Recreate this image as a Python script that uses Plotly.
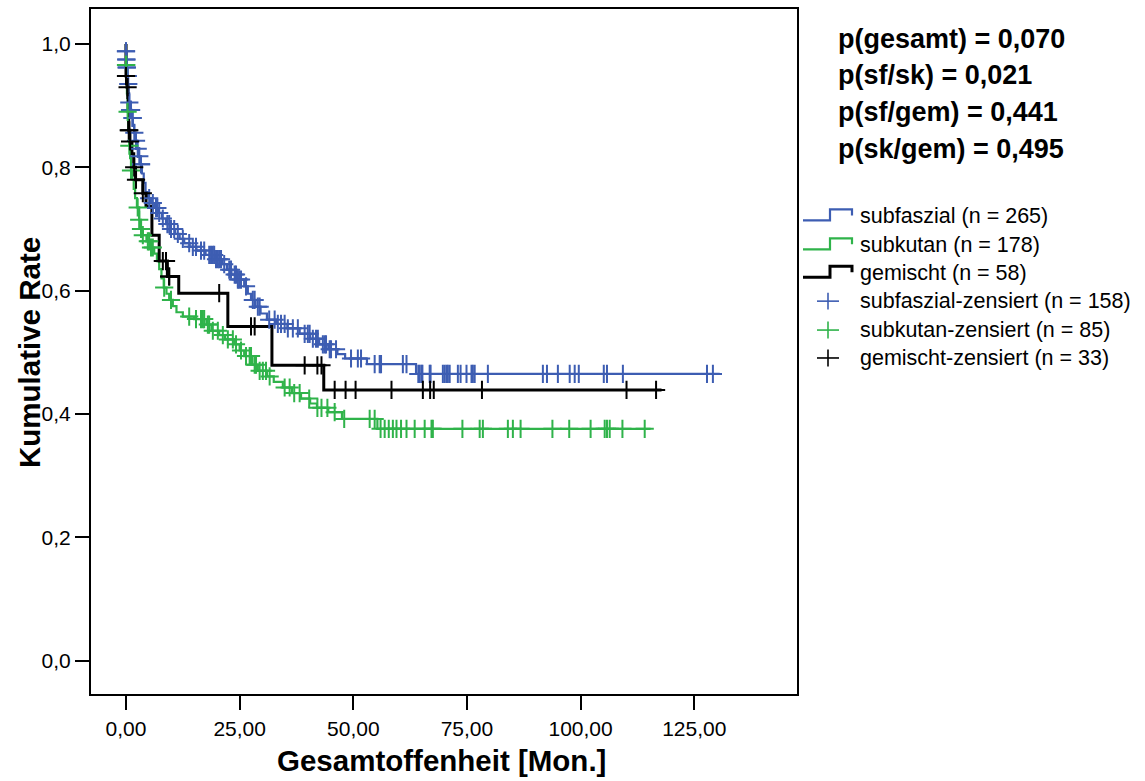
import plotly.graph_objects as go

# ---------------- data ----------------
# Kaplan-Meier step points: event times (months) and cumulative rate after each step
blue_event_t = [0.0, 0.05, 0.12, 0.25, 0.4, 0.55, 0.7, 0.9, 1.2, 1.5, 1.8, 2.1, 2.4, 2.7, 3.1, 3.5, 3.9,
                4.3, 4.8, 5.5, 6.3, 7.1, 7.9, 8.8, 9.8, 10.8, 11.8, 12.8, 14.0, 15.5, 17.5, 19.5, 21.2,
                22.2, 23.2, 24.5, 26.0, 26.8, 27.5, 28.5, 29.6, 31.0, 33.0, 35.5, 38.2, 40.5, 42.5,
                44.5, 46.5, 48.2, 53.0, 63.8]
blue_event_s = [0.988, 0.975, 0.962, 0.948, 0.935, 0.92, 0.905, 0.893, 0.88, 0.868, 0.856, 0.843, 0.83,
                0.818, 0.805, 0.79, 0.775, 0.76, 0.75, 0.742, 0.734, 0.726, 0.717, 0.708, 0.70, 0.692,
                0.684, 0.677, 0.671, 0.665, 0.658, 0.651, 0.643, 0.634, 0.626, 0.618, 0.607, 0.595,
                0.585, 0.574, 0.563, 0.553, 0.546, 0.539, 0.53, 0.522, 0.513, 0.505, 0.497, 0.49,
                0.481, 0.465]
blue_end = 130.6
blue_cens_t = [0.0, 0.0, 0.05, 0.1, 0.13, 0.2, 0.35, 0.35, 0.5, 0.73, 0.9, 1.1, 1.1, 1.45, 1.45, 1.83,
               2.2, 2.57, 2.93, 3.3, 3.3, 5.1, 5.9, 6.6, 6.9, 7.3, 8.1, 9.1, 9.5, 9.9, 10.6, 11.4, 12.5,
               13.9, 14.7, 15.4, 16.5, 17.2, 18.3, 18.7, 19.1, 19.4, 19.8, 20.2, 20.5, 20.9, 21.6,
               22.7, 23.1, 23.9, 24.2, 24.6, 24.9, 25.3, 26.4, 27.9, 28.3, 29.0, 29.4, 31.5, 32.7,
               33.4, 34.1, 34.9, 35.6, 36.7, 37.8, 39.3, 40.0, 40.4, 41.1, 41.8, 42.2, 43.3, 43.7,
               44.0, 44.8, 45.1, 46.2, 49.5, 51.0, 51.7, 54.7, 55.8, 56.1, 60.9, 61.7, 64.3, 64.6,
               65.0, 65.2, 66.8, 67.0, 69.7, 70.1, 70.5, 70.8, 71.2, 73.0, 73.6, 74.9, 76.0, 76.3,
               76.7, 79.6, 91.7, 92.6, 95.0, 97.6, 98.7, 99.6, 105.1, 105.8, 109.3, 127.8, 129.1]

green_event_t = [0.0, 0.1, 0.2, 0.35, 0.5, 0.7, 0.9, 1.1, 1.4, 1.7, 2.0, 2.4, 2.9, 3.3, 3.7, 4.5, 5.5,
                 6.2, 6.8, 7.3, 7.8, 8.3, 8.9, 9.5, 10.3, 11.1, 12.5, 15.0, 17.7, 18.8, 20.5, 21.8,
                 23.8, 25.0, 26.0, 27.8, 29.0, 31.0, 32.5, 34.5, 36.5, 38.5, 40.5, 42.0, 44.5, 47.5,
                 55.3]
green_event_s = [0.966, 0.95, 0.92, 0.89, 0.86, 0.835, 0.815, 0.795, 0.78, 0.765, 0.75, 0.735, 0.715,
                 0.70, 0.69, 0.68, 0.67, 0.66, 0.648, 0.635, 0.62, 0.605, 0.595, 0.585, 0.575, 0.565,
                 0.558, 0.554, 0.545, 0.535, 0.528, 0.521, 0.513, 0.503, 0.494, 0.48, 0.47, 0.461,
                 0.452, 0.443, 0.434, 0.425, 0.417, 0.41, 0.403, 0.392, 0.376]
green_end = 115.4
green_cens_t = [0.0, 0.05, 0.35, 0.73, 1.1, 2.57, 2.9, 3.3, 3.7, 4.8, 5.1, 5.5, 5.9, 8.4, 9.9, 13.9,
                15.4, 16.5, 16.9, 17.2, 18.0, 18.3, 19.1, 20.2, 21.3, 22.4, 23.5, 24.2, 25.3, 26.4,
                27.2, 27.5, 28.3, 28.6, 29.4, 30.1, 30.8, 31.6, 34.9, 36.0, 37.0, 38.2, 40.3, 42.1,
                43.0, 44.3, 45.9, 48.0, 53.6, 54.7, 56.0, 56.9, 57.8, 58.7, 59.5, 60.5, 61.7, 63.5,
                65.7, 67.2, 67.5, 74.0, 77.8, 78.5, 84.0, 85.1, 86.8, 93.8, 97.5, 102.2, 105.3,
                105.8, 106.4, 109.2, 114.1]

black_event_t = [0.0, 0.25, 0.4, 0.5, 0.55, 0.6, 0.85, 1.3, 1.7, 2.1, 3.7, 4.4, 5.7, 7.3, 9.1, 11.6,
                 22.4, 32.1, 43.5]
black_event_s = [0.948, 0.93, 0.913, 0.895, 0.877, 0.86, 0.842, 0.822, 0.80, 0.78, 0.758, 0.737,
                 0.69, 0.648, 0.623, 0.596, 0.542, 0.479, 0.439]
black_end = 117.8
black_cens_t = [0.0, 0.35, 0.6, 0.73, 0.9, 1.8, 2.2, 3.7, 8.1, 8.8, 9.5, 9.5, 20.5, 27.5, 28.3, 39.3,
                42.1, 43.0, 45.9, 48.3, 50.5, 58.4, 65.3, 66.9, 67.7, 78.3, 110.1, 116.6]

group_names = ["subfaszial (n = 265)", "subkutan (n = 178)", "gemischt (n = 58)"]
cens_names = ["subfaszial-zensiert (n = 158)", "subkutan-zensiert (n = 85)",
              "gemischt-zensiert (n = 33)"]
p_texts = ["p(gesamt) = 0,070", "p(sf/sk) = 0,021", "p(sf/gem) = 0,441", "p(sk/gem) = 0,495"]

x_tickvals = [0, 25, 50, 75, 100, 125]
x_ticktext = ["0,00", "25,00", "50,00", "75,00", "100,00", "125,00"]
y_tickvals = [0.0, 0.2, 0.4, 0.6, 0.8, 1.0]
y_ticktext = ["0,0", "0,2", "0,4", "0,6", "0,8", "1,0"]

# ---------------- styling ----------------
BLUE = "#3D5DB2"
GREEN = "#2FB34A"
BLACK = "#000000"
colors = [BLUE, GREEN, BLACK]
line_w = [2.2, 2.2, 3]

W, H = 1145, 781
L, R, T, B = 91, 797, 7, 694  # plot area in pixels


def px_x(px):
    return (px - L) / (R - L)


def px_y(py):
    return (B - py) / (B - T)


def step_curve(ev_t, ev_s, end):
    xs = [0.0] + list(ev_t) + [end]
    ys = [1.0] + list(ev_s) + [ev_s[-1]]
    return xs, ys


def surv_at(t, ev_t, ev_s):
    s = 1.0
    for et, es in zip(ev_t, ev_s):
        if et <= t:
            s = es
    return s


fig = go.Figure()
groups = [
    (blue_event_t, blue_event_s, blue_end, blue_cens_t),
    (green_event_t, green_event_s, green_end, green_cens_t),
    (black_event_t, black_event_s, black_end, black_cens_t),
]
for i, (et, es, end, ct) in enumerate(groups):
    xs, ys = step_curve(et, es, end)
    fig.add_trace(go.Scatter(x=xs, y=ys, mode="lines", line=dict(color=colors[i], width=line_w[i],
                             shape="hv"), showlegend=False, hoverinfo="skip"))
for i, (et, es, end, ct) in enumerate(groups):
    cy = [surv_at(t, et, es) for t in ct]
    fig.add_trace(go.Scatter(x=ct, y=cy, mode="markers",
                             marker=dict(symbol="cross-thin", size=13,
                                         line=dict(color=colors[i], width=2)),
                             showlegend=False, hoverinfo="skip"))

AX_FONT = dict(family="Liberation Sans, Arial", size=21, color="black")
fig.update_xaxes(range=[-7.7, 147.6], tickvals=x_tickvals, ticktext=x_ticktext, showgrid=False,
                 zeroline=False, showline=True, mirror=True, linecolor="black", linewidth=2,
                 ticks="outside", ticklen=14, tickwidth=2, tickcolor="black", tickfont=AX_FONT,
                 ticklabelstandoff=1)
fig.update_yaxes(range=[-0.054, 1.0567], tickvals=y_tickvals, ticktext=y_ticktext, showgrid=False,
                 zeroline=False, showline=True, mirror=True, linecolor="black", linewidth=2,
                 ticks="outside", ticklen=14, tickwidth=2, tickcolor="black", tickfont=AX_FONT)

annotations = []
shapes = []
TITLE_FONT = dict(family="Liberation Sans, Arial", size=29.5, color="black", weight="bold")
annotations.append(dict(text="Gesamtoffenheit [Mon.]", x=px_x(441), y=px_y(761), xref="paper",
                        yref="paper", showarrow=False, xanchor="center", yanchor="middle",
                        font=TITLE_FONT))
annotations.append(dict(text="Kumulative Rate", x=px_x(30), y=px_y(352), xref="paper",
                        yref="paper", showarrow=False, xanchor="center", yanchor="middle",
                        textangle=-90, font=TITLE_FONT))

# p-values
p_ys = [37, 73.5, 110, 147]
for txt, py in zip(p_texts, p_ys):
    annotations.append(dict(text=txt, x=px_x(836), y=px_y(py), xref="paper", yref="paper",
                            showarrow=False, xanchor="left", yanchor="middle",
                            font=dict(family="Liberation Sans, Arial", size=27, color="black",
                                      weight="bold")))

# custom legend
LEG_FONT = dict(family="Liberation Sans, Arial", size=21.5, color="black")
row_y = [215, 244, 272, 300, 329, 357]
for i in range(3):
    yc = row_y[i]
    pts = [(803, yc + 4), (830, yc + 4), (830, yc - 7), (852, yc - 7), (852, yc - 1)]
    path = "M " + " L ".join(f"{px_x(a):.5f},{px_y(b):.5f}" for a, b in pts)
    shapes.append(dict(type="path", path=path, xref="paper", yref="paper",
                       line=dict(color=colors[i], width=line_w[i])))
    annotations.append(dict(text=group_names[i], x=px_x(858), y=px_y(yc), xref="paper",
                            yref="paper", showarrow=False, xanchor="left", yanchor="middle",
                            font=LEG_FONT))
for i in range(3):
    yc = row_y[3 + i]
    cx = 828
    shapes.append(dict(type="line", x0=px_x(cx - 11), x1=px_x(cx + 11), y0=px_y(yc), y1=px_y(yc),
                       xref="paper", yref="paper", line=dict(color=colors[i], width=1.6)))
    shapes.append(dict(type="line", x0=px_x(cx), x1=px_x(cx), y0=px_y(yc - 8.5), y1=px_y(yc + 8.5),
                       xref="paper", yref="paper", line=dict(color=colors[i], width=1.6)))
    annotations.append(dict(text=cens_names[i], x=px_x(858), y=px_y(yc), xref="paper",
                            yref="paper", showarrow=False, xanchor="left", yanchor="middle",
                            font=LEG_FONT))

fig.update_layout(width=W, height=H, margin=dict(l=L, r=W - R, t=T, b=H - B),
                  paper_bgcolor="white", plot_bgcolor="white", showlegend=False,
                  annotations=annotations, shapes=shapes)

fig.write_html("out.html")
